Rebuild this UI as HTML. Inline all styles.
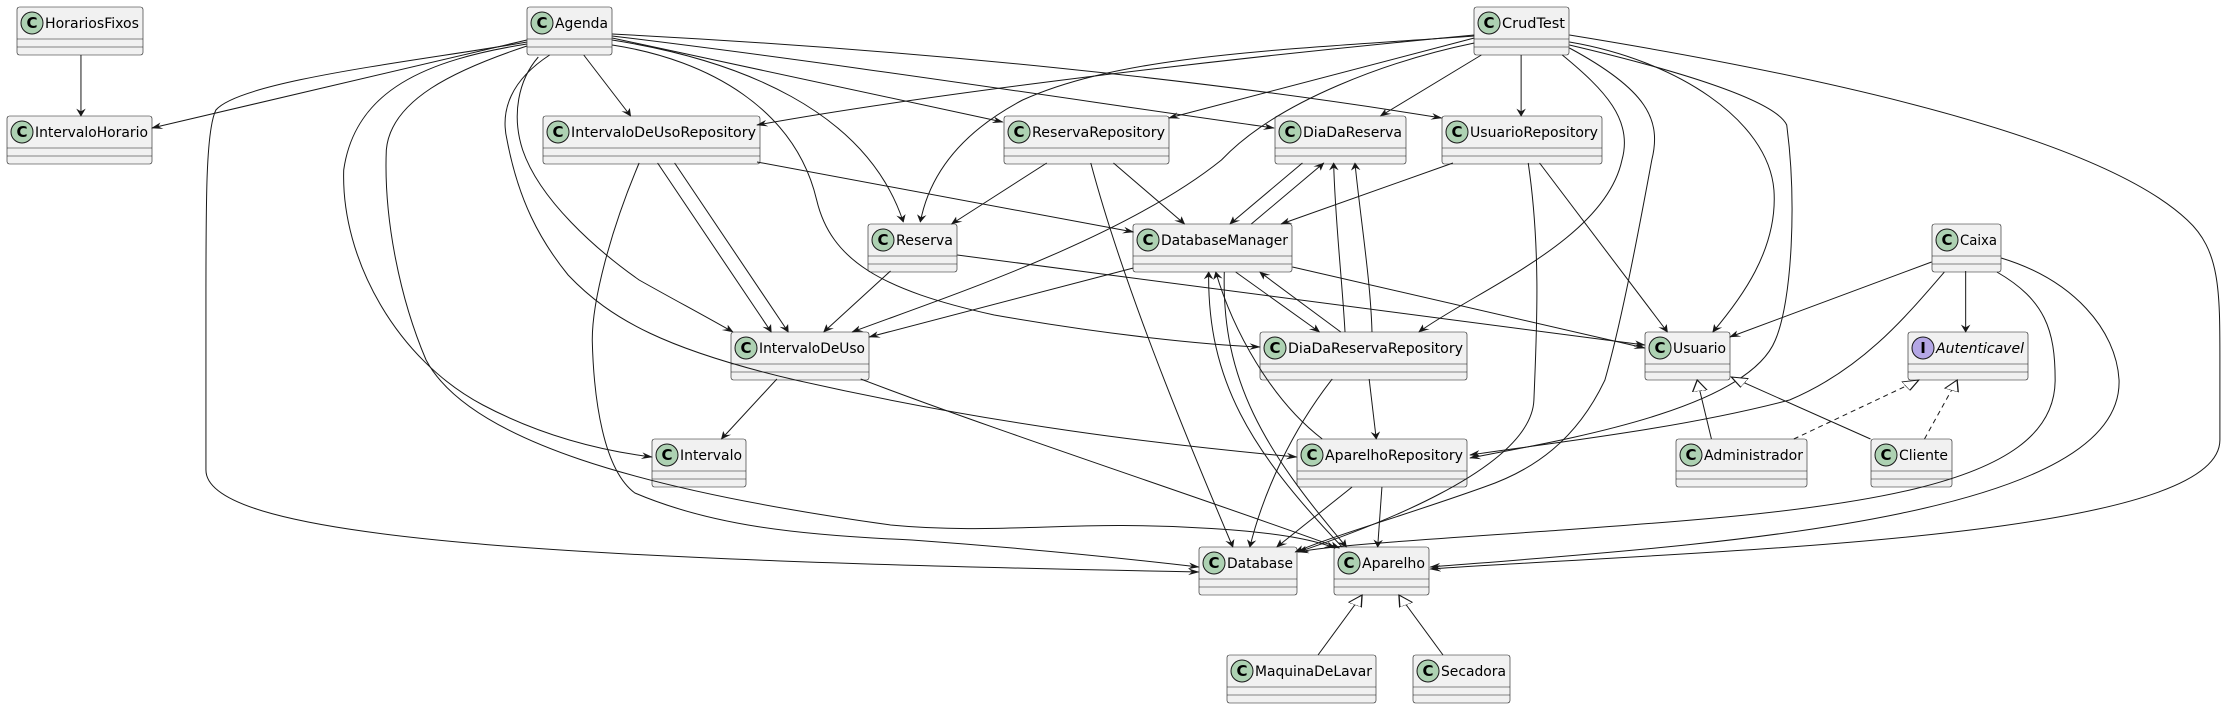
<!DOCTYPE html>
<html><head><meta charset="utf-8"><style>
html,body{margin:0;padding:0;background:#fff;width:2227px;height:709px;overflow:hidden}
svg{position:absolute;left:0;top:0}
.b rect.f{fill:#F1F1F1;stroke:#181818;stroke-width:0.6}
.b line{stroke:#181818;stroke-width:0.6}
.b circle{fill:#ADD1B2;stroke:#181818;stroke-width:1}
.b text{font-family:"DejaVu Sans","Liberation Sans",sans-serif;font-size:14px;fill:#000}
.b text.c{font-weight:bold;font-size:15px;text-anchor:middle}
.e path{fill:none;stroke:#181818;stroke-width:1;vector-effect:non-scaling-stroke}
</style></head><body>
<svg width="2227" height="709" class="b">
<!-- boxes: x0,w,y0 -->
<g>
<rect class="f" x="17" y="7" width="126" height="48" rx="2.5"/><line x1="17" y1="39" x2="143" y2="39"/><line x1="17" y1="47" x2="143" y2="47"/><circle cx="32" cy="23" r="11"/><text class="c" x="32" y="28">C</text><text x="45" y="28" textLength="94" lengthAdjust="spacingAndGlyphs">HorariosFixos</text>
<rect class="f" x="527" y="7" width="85" height="48" rx="2.5"/><line x1="527" y1="39" x2="612" y2="39"/><line x1="527" y1="47" x2="612" y2="47"/><circle cx="542" cy="23" r="11"/><text class="c" x="542" y="28">C</text><text x="555" y="28" textLength="53" lengthAdjust="spacingAndGlyphs">Agenda</text>
<rect class="f" x="1474" y="7" width="95" height="48" rx="2.5"/><line x1="1474" y1="39" x2="1569" y2="39"/><line x1="1474" y1="47" x2="1569" y2="47"/><circle cx="1489" cy="23" r="11"/><text class="c" x="1489" y="28">C</text><text x="1502" y="28" textLength="63" lengthAdjust="spacingAndGlyphs">CrudTest</text>

<rect class="f" x="7" y="116" width="145" height="48" rx="2.5"/><line x1="7" y1="148" x2="152" y2="148"/><line x1="7" y1="156" x2="152" y2="156"/><circle cx="22" cy="132" r="11"/><text class="c" x="22" y="137">C</text><text x="35" y="137" textLength="113" lengthAdjust="spacingAndGlyphs">IntervaloHorario</text>
<rect class="f" x="543" y="116" width="217" height="48" rx="2.5"/><line x1="543" y1="148" x2="760" y2="148"/><line x1="543" y1="156" x2="760" y2="156"/><circle cx="558" cy="132" r="11"/><text class="c" x="558" y="137">C</text><text x="571" y="137" textLength="185" lengthAdjust="spacingAndGlyphs">IntervaloDeUsoRepository</text>
<rect class="f" x="1004" y="116" width="165" height="48" rx="2.5"/><line x1="1004" y1="148" x2="1169" y2="148"/><line x1="1004" y1="156" x2="1169" y2="156"/><circle cx="1019" cy="132" r="11"/><text class="c" x="1019" y="137">C</text><text x="1032" y="137" textLength="133" lengthAdjust="spacingAndGlyphs">ReservaRepository</text>
<rect class="f" x="1275" y="116" width="131" height="48" rx="2.5"/><line x1="1275" y1="148" x2="1406" y2="148"/><line x1="1275" y1="156" x2="1406" y2="156"/><circle cx="1290" cy="132" r="11"/><text class="c" x="1290" y="137">C</text><text x="1303" y="137" textLength="99" lengthAdjust="spacingAndGlyphs">DiaDaReserva</text>
<rect class="f" x="1442" y="116" width="160" height="48" rx="2.5"/><line x1="1442" y1="148" x2="1602" y2="148"/><line x1="1442" y1="156" x2="1602" y2="156"/><circle cx="1457" cy="132" r="11"/><text class="c" x="1457" y="137">C</text><text x="1470" y="137" textLength="128" lengthAdjust="spacingAndGlyphs">UsuarioRepository</text>

<rect class="f" x="868" y="224" width="89" height="48" rx="2.5"/><line x1="868" y1="256" x2="957" y2="256"/><line x1="868" y1="264" x2="957" y2="264"/><circle cx="883" cy="240" r="11"/><text class="c" x="883" y="245">C</text><text x="896" y="245" textLength="57" lengthAdjust="spacingAndGlyphs">Reserva</text>
<rect class="f" x="1133" y="224" width="159" height="48" rx="2.5"/><line x1="1133" y1="256" x2="1292" y2="256"/><line x1="1133" y1="264" x2="1292" y2="264"/><circle cx="1148" cy="240" r="11"/><text class="c" x="1148" y="245">C</text><text x="1161" y="245" textLength="127" lengthAdjust="spacingAndGlyphs">DatabaseManager</text>
<rect class="f" x="1932" y="224" width="69" height="48" rx="2.5"/><line x1="1932" y1="256" x2="2001" y2="256"/><line x1="1932" y1="264" x2="2001" y2="264"/><circle cx="1947" cy="240" r="11"/><text class="c" x="1947" y="245">C</text><text x="1960" y="245" textLength="37" lengthAdjust="spacingAndGlyphs">Caixa</text>

<rect class="f" x="731" y="332" width="138" height="48" rx="2.5"/><line x1="731" y1="364" x2="869" y2="364"/><line x1="731" y1="372" x2="869" y2="372"/><circle cx="746" cy="348" r="11"/><text class="c" x="746" y="353">C</text><text x="759" y="353" textLength="106" lengthAdjust="spacingAndGlyphs">IntervaloDeUso</text>
<rect class="f" x="1260" y="332" width="207" height="48" rx="2.5"/><line x1="1260" y1="364" x2="1467" y2="364"/><line x1="1260" y1="372" x2="1467" y2="372"/><circle cx="1275" cy="348" r="11"/><text class="c" x="1275" y="353">C</text><text x="1288" y="353" textLength="175" lengthAdjust="spacingAndGlyphs">DiaDaReservaRepository</text>
<rect class="f" x="1645" y="332" width="85" height="48" rx="2.5"/><line x1="1645" y1="364" x2="1730" y2="364"/><line x1="1645" y1="372" x2="1730" y2="372"/><circle cx="1660" cy="348" r="11"/><text class="c" x="1660" y="353">C</text><text x="1673" y="353" textLength="53" lengthAdjust="spacingAndGlyphs">Usuario</text>
<rect class="f" x="1908" y="332" width="120" height="48" rx="2.5"/><line x1="1908" y1="364" x2="2028" y2="364"/><line x1="1908" y1="372" x2="2028" y2="372"/><circle cx="1923" cy="348" r="11" style="fill:#B4A7E5"/><text class="c" x="1923" y="353">I</text><text x="1936" y="353" textLength="88" lengthAdjust="spacingAndGlyphs" font-style="italic">Autenticavel</text>

<rect class="f" x="652" y="439" width="94" height="48" rx="2.5"/><line x1="652" y1="471" x2="746" y2="471"/><line x1="652" y1="479" x2="746" y2="479"/><circle cx="667" cy="455" r="11"/><text class="c" x="667" y="460">C</text><text x="680" y="460" textLength="62" lengthAdjust="spacingAndGlyphs">Intervalo</text>
<rect class="f" x="1297" y="439" width="170" height="48" rx="2.5"/><line x1="1297" y1="471" x2="1467" y2="471"/><line x1="1297" y1="479" x2="1467" y2="479"/><circle cx="1312" cy="455" r="11"/><text class="c" x="1312" y="460">C</text><text x="1325" y="460" textLength="138" lengthAdjust="spacingAndGlyphs">AparelhoRepository</text>
<rect class="f" x="1676" y="439" width="131" height="48" rx="2.5"/><line x1="1676" y1="471" x2="1807" y2="471"/><line x1="1676" y1="479" x2="1807" y2="479"/><circle cx="1691" cy="455" r="11"/><text class="c" x="1691" y="460">C</text><text x="1704" y="460" textLength="99" lengthAdjust="spacingAndGlyphs">Administrador</text>
<rect class="f" x="1871" y="439" width="81" height="48" rx="2.5"/><line x1="1871" y1="471" x2="1952" y2="471"/><line x1="1871" y1="479" x2="1952" y2="479"/><circle cx="1886" cy="455" r="11"/><text class="c" x="1886" y="460">C</text><text x="1899" y="460" textLength="49" lengthAdjust="spacingAndGlyphs">Cliente</text>

<rect class="f" x="1199" y="547" width="98" height="48" rx="2.5"/><line x1="1199" y1="579" x2="1297" y2="579"/><line x1="1199" y1="587" x2="1297" y2="587"/><circle cx="1214" cy="563" r="11"/><text class="c" x="1214" y="568">C</text><text x="1227" y="568" textLength="66" lengthAdjust="spacingAndGlyphs">Database</text>
<rect class="f" x="1334" y="547" width="95" height="48" rx="2.5"/><line x1="1334" y1="579" x2="1429" y2="579"/><line x1="1334" y1="587" x2="1429" y2="587"/><circle cx="1349" cy="563" r="11"/><text class="c" x="1349" y="568">C</text><text x="1362" y="568" textLength="63" lengthAdjust="spacingAndGlyphs">Aparelho</text>

<rect class="f" x="1227" y="655" width="149" height="48" rx="2.5"/><line x1="1227" y1="687" x2="1376" y2="687"/><line x1="1227" y1="695" x2="1376" y2="695"/><circle cx="1242" cy="671" r="11"/><text class="c" x="1242" y="676">C</text><text x="1255" y="676" textLength="117" lengthAdjust="spacingAndGlyphs">MaquinaDeLavar</text>
<rect class="f" x="1413" y="655" width="97" height="48" rx="2.5"/><line x1="1413" y1="687" x2="1510" y2="687"/><line x1="1413" y1="695" x2="1510" y2="695"/><circle cx="1428" cy="671" r="11"/><text class="c" x="1428" y="676">C</text><text x="1441" y="676" textLength="65" lengthAdjust="spacingAndGlyphs">Secadora</text>
</g>
</svg>

<svg width="2227" height="709" viewBox="0 0 1568 709" preserveAspectRatio="none" class="e">
<defs>
<marker id="a" viewBox="0 0 12 10" refX="11" refY="5" markerWidth="8" markerHeight="8" markerUnits="userSpaceOnUse" orient="auto"><path d="M0,0 L12,5 L0,10 L4,5 Z" style="fill:#181818;stroke:none"/></marker>
<marker id="t" viewBox="0 0 14 12" refX="13" refY="6" markerWidth="12" markerHeight="11" markerUnits="userSpaceOnUse" orient="auto"><path d="M0,0 L13,6 L0,12 Z" style="fill:#fff;stroke:#181818;stroke-width:1"/></marker>
</defs>
<g marker-end="url(#a)">
<path d="M57,55 L57,116"/>
<path d="M371,40 L107,128"/>
<path d="M411,55 L444,116"/>
<path d="M371,42 C300,60 170,80 152,110 C145,130 145,200 145,300 L145,470 C145,540 400,560 844,572"/>
<path d="M371,44 C300,60 250,90 242,170 C240,260 280,360 340,405 C380,435 420,450 459,457"/>
<path d="M371,46 C320,70 275,100 272,150 C270,220 282,300 300,360 C330,440 450,490 627,525 C700,535 760,520 846,528 C900,532 925,540 940,548"/>
<path d="M387,55 C360,80 352,110 357,140 C365,200 380,240 400,275 C430,320 470,350 560,380 C700,425 820,445 913,457"/>
<path d="M379,57 C365,80 360,115 368,150 C380,200 420,250 450,280 C475,300 495,315 516,332"/>
<path d="M431,45 C500,60 560,110 575,200 C585,260 620,290 700,315 C780,335 850,345 887,347"/>
<path d="M431,40 C520,60 610,110 636,222"/>
<path d="M431,38 L706,122"/>
<path d="M431,36 C600,65 780,105 897,128"/>
<path d="M431,34 C650,50 850,80 1015,118"/>
<path d="M1071,55 L1071,116"/>
<path d="M1043,55 L972,116"/>
<path d="M1038,38 L823,118"/>
<path d="M1038,35 C850,60 650,95 533,125"/>
<path d="M1038,36 C900,50 790,55 720,100 C680,130 655,170 648,222"/>
<path d="M1038,43 C980,60 900,100 860,160 C790,240 660,300 600,332"/>
<path d="M1100,55 C1130,90 1150,120 1142,160 C1130,240 1040,290 999,332"/>
<path d="M1105,48 C1160,90 1170,120 1163,160 C1150,260 1140,330 1130,380 C1110,440 1080,470 1045,487 C990,515 940,535 912,552"/>
<path d="M1105,42 C1180,60 1245,120 1249,190 C1252,250 1225,300 1206,332"/>
<path d="M1105,45 C1180,70 1250,100 1258,125 C1265,200 1262,300 1250,340 C1230,410 1100,440 1035,458"/>
<path d="M1105,35 C1300,80 1480,140 1540,220 C1563,250 1563,290 1563,360 L1563,440 C1563,540 1200,550 1007,569"/>
<path d="M1360,262 L1218,337"/>
<path d="M1384,271 L1384,332"/>
<path d="M1369,272 C1340,320 1310,370 1260,400 C1180,430 1080,445 1035,455"/>
<path d="M1406,272 C1440,300 1447,330 1447,380 C1447,490 1300,510 1100,530 C1000,540 940,545 914,552"/>
<path d="M1409,258 C1460,280 1490,330 1492,380 C1495,520 1200,545 1007,567"/>
<path d="M533,162 L798,232"/>
<path d="M463,163 L543,332"/>
<path d="M475,163 L555,332"/>
<path d="M450,163 C430,230 417,300 417,340 C418,400 425,470 447,493 C500,525 560,535 642,540 C720,548 790,558 844,567"/>
<path d="M737,163 L670,224"/>
<path d="M784,163 L834,224"/>
<path d="M768,163 C790,280 830,420 868,547"/>
<path d="M917,163 L866,224"/>
<path d="M881,224 L932,163"/>
<path d="M947,332 C945,280 940,220 939,163"/>
<path d="M966,332 C965,280 958,220 954,163"/>
<path d="M944,332 L887,272"/>
<path d="M1023,163 L902,224"/>
<path d="M1084,163 L1174,332"/>
<path d="M1076,163 C1085,250 1082,330 1080,400 C1078,470 960,530 914,552"/>
<path d="M627,271 L580,332"/>
<path d="M674,255 L1158,345"/>
<path d="M910,267 L1158,348"/>
<path d="M798,268 L612,337"/>
<path d="M870,272 L929,332"/>
<path d="M862,272 C860,380 890,450 948,547"/>
<path d="M945,547 C880,450 850,380 851,272"/>
<path d="M931,439 C895,400 868,330 856,272"/>
<path d="M964,379 L969,439"/>
<path d="M938,379 C910,430 890,490 880,547"/>
<path d="M547,379 L508,439"/>
<path d="M606,379 C700,430 850,500 943,548"/>
<path d="M952,487 L899,547"/>
<path d="M973,487 L970,547"/>
</g>
<g marker-end="url(#t)">
<path d="M1205,439 L1195,380"/>
<path d="M1317,439 L1219,377"/>
<path d="M928,655 L959,595"/>
<path d="M1016,655 L985,595"/>
<path d="M1263,439 L1351,380" style="stroke-dasharray:5,4"/>
<path d="M1355,439 L1378,380" style="stroke-dasharray:5,4"/>
</g>
</svg>
</body></html>
